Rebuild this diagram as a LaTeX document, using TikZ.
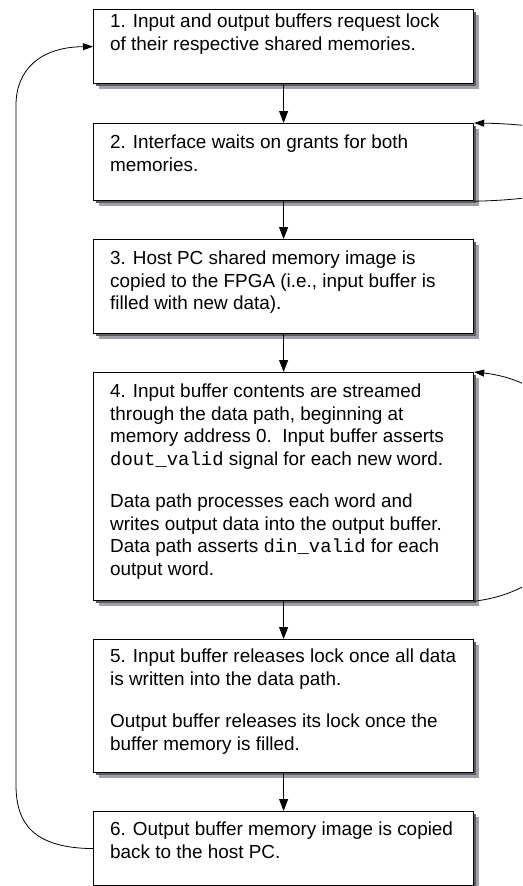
\documentclass[tikz,border=0pt]{standalone}
\usepackage{fontspec}
\setmainfont{Liberation Sans}
\setmonofont{Liberation Mono}
\usetikzlibrary{arrows.meta,calc}
\definecolor{shlight}{RGB}{160,161,166}
\definecolor{shdark}{RGB}{92,93,99}
\begin{document}
\begin{tikzpicture}[x=1pt,y=-1pt,
  box/.style={draw,fill=white,line width=1.2pt,inner sep=0pt,anchor=north west,minimum width=380pt},
  shadowlight/.style={fill=shlight},
  shadowdark/.style={fill=shdark},
  txt/.style={anchor=north west,inner sep=0pt,align=left,font=\fontsize{18.9}{22.5}\selectfont},
  arr/.style={line width=0.9pt,-{Triangle[length=12pt,width=9pt]}},
  lp/.style={line width=0.8pt,-{Triangle[length=10pt,width=7pt]}}]
\useasboundingbox (0,0) rectangle (522,886);
\fill[white] (0,0) rectangle (522,886);

\fill[shadowlight] (99,15) rectangle (479,89);
\fill[shadowdark] (96,12) rectangle (476,86);
\fill[shadowlight] (99,129) rectangle (479,206);
\fill[shadowdark] (96,126) rectangle (476,203);
\fill[shadowlight] (99,245) rectangle (479,339);
\fill[shadowdark] (96,242) rectangle (476,336);
\fill[shadowlight] (99,378) rectangle (479,606);
\fill[shadowdark] (96,375) rectangle (476,603);
\fill[shadowlight] (99,645) rectangle (479,778);
\fill[shadowdark] (96,642) rectangle (476,775);
\fill[shadowlight] (99,817) rectangle (479,891);
\fill[shadowdark] (96,814) rectangle (476,888);

\node[box,minimum height=74pt]  (b1) at (93,9)   {};
\node[box,minimum height=77pt]  (b2) at (93,123) {};
\node[box,minimum height=94pt]  (b3) at (93,239) {};
\node[box,minimum height=228pt] (b4) at (93,372) {};
\node[box,minimum height=133pt] (b5) at (93,639) {};
\node[box,minimum height=74pt]  (b6) at (93,811) {};

\node[txt] (t1) at ($(b1.north west)+(17,5)$) {1. Input and output buffers request lock\\of their respective shared memories.};
\node[txt] (t2) at ($(b2.north west)+(17,12)$) {2. Interface waits on grants for both\\memories.};
\node[txt] (t3) at ($(b3.north west)+(17,12)$) {3. Host PC shared memory image is\\copied to the FPGA (i.e., input buffer is\\filled with new data).};
\node[txt] (t4) at ($(b4.north west)+(17,12)$) {4. Input buffer contents are streamed\\through the data path, beginning at\\memory address 0.~\ Input buffer asserts\\\texttt{dout\_valid} signal for each new word.\\[20pt]Data path processes each word and\\writes output data into the output buffer.\\Data path asserts \texttt{din\_valid} for each\\output word.};
\node[txt] (t5) at ($(b5.north west)+(17,10)$) {5. Input buffer releases lock once all data\\is written into the data path.\\[20pt]Output buffer releases its lock once the\\buffer memory is filled.};
\node[txt] (t6) at ($(b6.north west)+(17,11)$) {6. Output buffer memory image is copied\\back to the host PC.};

\draw[arr] (b1.south) -- (b2.north);
\draw[arr] (b2.south) -- (b3.north);
\draw[arr] (b3.south) -- (b4.north);
\draw[arr] (b4.south) -- (b5.north);
\draw[arr] (b5.south) -- (b6.north);

\draw[lp] (b6.west) .. controls (35,848) and (16,825) .. (16,785) -- (16,105) .. controls (16,70) and (40,47) .. (b1.west);

\begin{scope}
\clip (0,0) rectangle (522,886);
\draw[lp] (b2.south east) .. controls (650,198) and (650,126) .. (b2.north east);
\draw[lp] (b4.south east) .. controls (620,584) and (620,388) .. (b4.north east);
\end{scope}
\end{tikzpicture}
\end{document}
